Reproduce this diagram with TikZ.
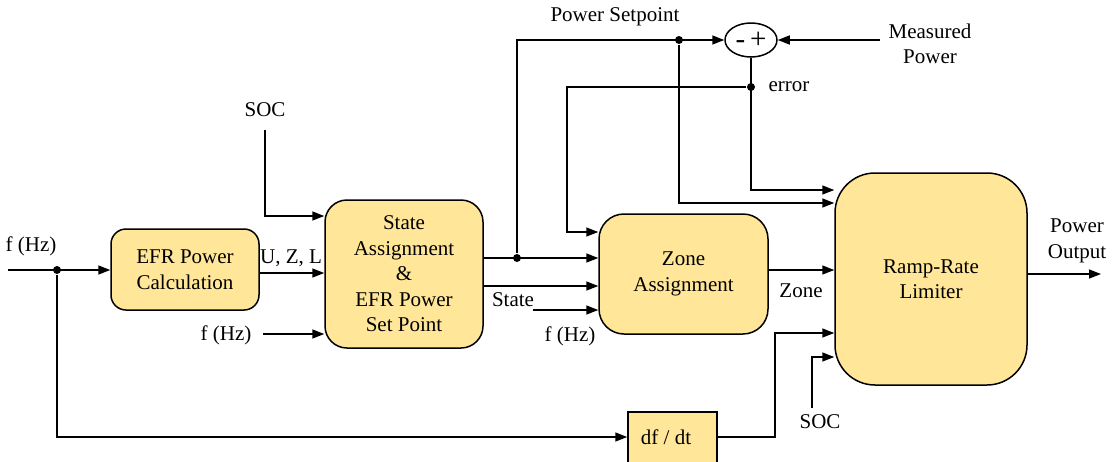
\documentclass[tikz,border=0pt]{standalone}
\usepackage{fontspec}
\setmainfont{Liberation Serif}
\usetikzlibrary{arrows.meta,shapes.geometric}
\definecolor{boxfill}{RGB}{255,230,153}
\begin{document}
\begin{tikzpicture}[x=1pt,y=-1pt,
  line width=1.5pt,
  font=\rmfamily\fontsize{21}{25.5}\selectfont,
  blk/.style={draw, fill=boxfill, align=center, inner sep=0pt, font=\rmfamily\fontsize{21}{25.5}\selectfont},
  arr/.style={-{Triangle[length=12pt,width=9pt]}},
  dot/.style={circle, fill, inner sep=0pt, minimum size=8pt},
  lbl/.style={inner sep=0pt, align=center}]
\useasboundingbox (0,0) rectangle (1119,461);

% blocks
\node[blk, rounded corners=15pt, minimum width=148pt, minimum height=81pt] (efr) at (185,269.5) {EFR Power\\Calculation};
\node[blk, rounded corners=22pt, minimum width=158pt, minimum height=148pt] (st) at (404,274) {State\\Assignment\\\&\\EFR Power\\Set Point};
\node[blk, rounded corners=25pt, minimum width=169pt, minimum height=120pt] (zn) at (683.5,274) {Zone\\Assignment};
\node[blk, rounded corners=40pt, minimum width=192pt, minimum height=212pt] (rr) at (931,279) {Ramp-Rate\\Limiter};
\node[blk, minimum width=89pt, minimum height=64pt, anchor=north] (dfdt) at (672.5,411) {};
\node[lbl] (dfl) at (666,437) {df / dt};
\node[draw, ellipse, fill=white, inner sep=0pt, minimum width=52pt, minimum height=34pt, font=\rmfamily\fontsize{29}{30}\selectfont] (sum) at (751,40) {-\,+};

% labels
\node[lbl] (lfin) at (31,246) {f (Hz)};
\node[lbl] (luzl) at (291,258) {U, Z, L};
\node[lbl] (lsoc1) at (265,110) {SOC};
\node[lbl] (lf2) at (226,335) {f (Hz)};
\node[lbl] (lstate) at (513,300) {State};
\node[lbl] (lf3) at (570,336) {f (Hz)};
\node[lbl] (lzone) at (801,291) {Zone};
\node[lbl] (lsoc2) at (820,422) {SOC};
\node[lbl] (lps) at (615,17) {Power Setpoint};
\node[lbl] (lerr) at (789,87) {error};
\node[lbl] (lmp) at (930,44) {Measured\\Power};
\node[lbl] (lpo) at (1077,241) {Power\\Output};

% junction dots and free ends
\node[dot] (d1) at (57,270) {};
\node[dot] (d2) at (517,258) {};
\node[dot] (d3) at (679,40) {};
\node[dot] (d4) at (751,87) {};
\coordinate (in) at (8,270);
\coordinate (soc1s) at (265,130);
\coordinate (f2s) at (263,334);
\coordinate (f3s) at (533,310);
\coordinate (c1) at (567,232);
\coordinate (c2) at (775,333);
\coordinate (soc2s) at (812,408);
\coordinate (mp) at (880,40);
\coordinate (po) at (1101,274);

% connectors
\draw[arr] (in) -- (efr.west |- in);
\draw[arr] (d1) |- (dfdt.west |- dfl);
\draw[arr] ([yshift=-3.5pt]efr.east) -- ([yshift=-3.5pt]efr.east -| st.west);
\draw[arr] (soc1s) |- (st.west |- 0,216);
\draw[arr] (f2s) -- (st.west |- f2s);
\draw[arr] (st.east |- d2) -- (zn.west |- d2);
\draw[arr] (d2) |- (sum.west);
\draw[arr] (d3) |- (rr.west |- 0,203);
\draw[arr] (sum.south) |- (rr.west |- 0,190);
\draw[arr] (d4) -| (c1) -- (zn.west |- c1);
\draw[arr] (st.east |- 0,286) -- (zn.west |- 0,286);
\draw[arr] (f3s) -- (zn.west |- f3s);
\draw[arr] (zn.east |- 0,270) -- (rr.west |- 0,270);
\draw[arr] (dfdt.east |- dfl) -| (c2) -- (rr.west |- c2);
\draw[arr] (soc2s) |- (rr.west |- 0,357);
\draw[arr] (rr.east |- po) -- (po);
\draw[arr] (mp) -- (sum.east);
\end{tikzpicture}
\end{document}
